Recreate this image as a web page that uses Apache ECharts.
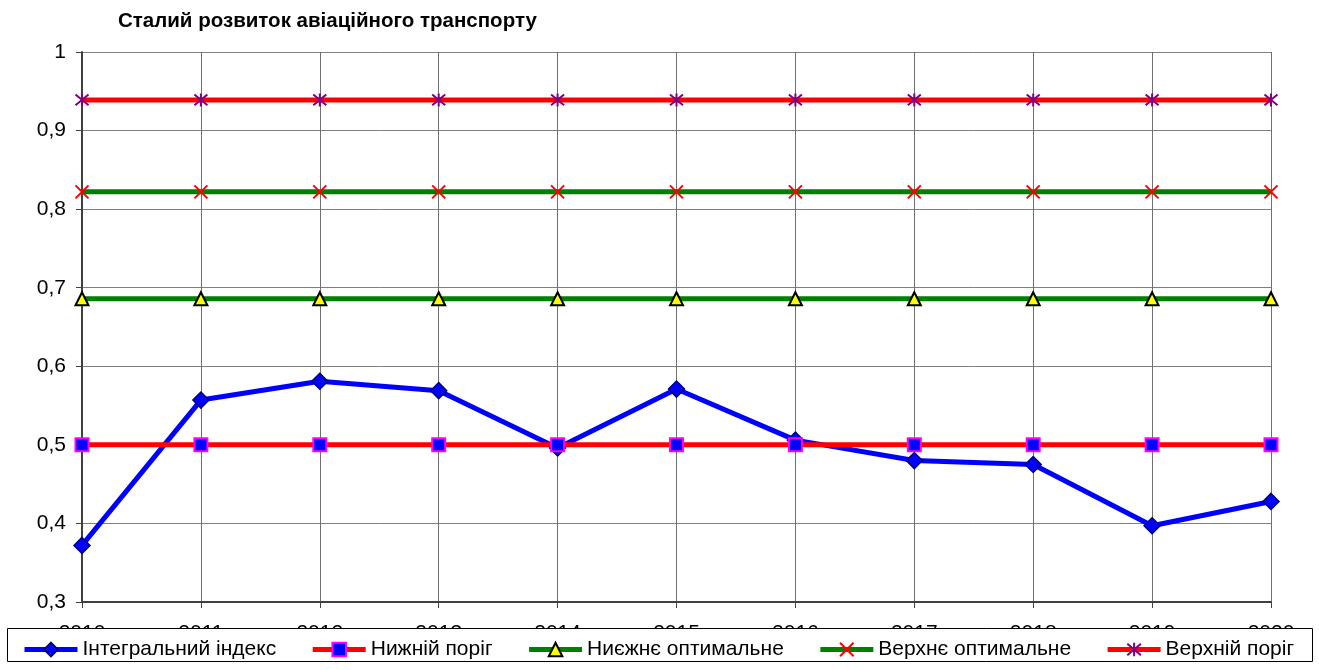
<!DOCTYPE html>
<html>
<head>
<meta charset="utf-8">
<script src="https://cdn.jsdelivr.net/npm/echarts@6/dist/echarts.min.js"></script>
<style>
  html, body { margin: 0; padding: 0; background: #fff; }
  #chart { width: 1319px; height: 670px; }
</style>
</head>
<body>
<div id="chart"></div>
<script>
// Years on the horizontal axis
const years = ['2010', '2011', '2012', '2013', '2014', '2015', '2016', '2017', '2018', '2019', '2020'];

// Integral index of sustainable development of air transport
const integralIndex = [0.372, 0.557, 0.581, 0.569, 0.496, 0.571, 0.506, 0.480, 0.475, 0.397, 0.428];
// Threshold levels
const lowerThreshold = [0.5, 0.5, 0.5, 0.5, 0.5, 0.5, 0.5, 0.5, 0.5, 0.5, 0.5];
const lowerOptimal = [0.686, 0.686, 0.686, 0.686, 0.686, 0.686, 0.686, 0.686, 0.686, 0.686, 0.686];
const upperOptimal = [0.822, 0.822, 0.822, 0.822, 0.822, 0.822, 0.822, 0.822, 0.822, 0.822, 0.822];
const upperThreshold = [0.939, 0.939, 0.939, 0.939, 0.939, 0.939, 0.939, 0.939, 0.939, 0.939, 0.939];

// Value-axis tick labels (decimal comma)
const yTickLabels = ['0,3', '0,4', '0,5', '0,6', '0,7', '0,8', '0,9', '1'];

const seriesNames = ['Інтегральний індекс', 'Нижній поріг', 'Ниєжнє оптимальне', 'Верхнє оптимальне', 'Верхній поріг'];

const FONT = 'Liberation Sans, Arial, sans-serif';
const crossPath = 'path://M0 0 L10 10 M10 0 L0 10';
const starPath = 'path://M0 0 L10 10 M10 0 L0 10 M5 -1 L5 11';

const chart = echarts.init(document.getElementById('chart'), null, { renderer: 'canvas' });

chart.setOption({
  animation: false,
  backgroundColor: '#ffffff',
  title: {
    text: 'Сталий розвиток авіаційного транспорту',
    left: 113,
    top: 6,
    textStyle: { fontFamily: FONT, fontSize: 20.5, fontWeight: 'bold', color: '#000' }
  },
  grid: { left: 82, right: 48, top: 52, bottom: 68, containLabel: false },
  xAxis: {
    type: 'category',
    data: years,
    boundaryGap: false,
    axisLine: { lineStyle: { color: '#404040', width: 2 } },
    axisTick: { show: true, length: 6, lineStyle: { color: '#404040', width: 1 } },
    axisLabel: { margin: 21, fontFamily: FONT, fontSize: 21, color: '#000' },
    splitLine: { show: true, lineStyle: { color: '#707070', width: 1 } }
  },
  yAxis: {
    type: 'value',
    min: 0.3,
    max: 1,
    interval: 0.1,
    axisLine: { show: true, lineStyle: { color: '#404040', width: 2 } },
    axisTick: { show: true, length: 6, lineStyle: { color: '#404040', width: 1 } },
    axisLabel: {
      margin: 16, fontFamily: FONT, fontSize: 21, color: '#000',
      formatter: v => yTickLabels[Math.round((v - 0.3) * 10)]
    },
    splitLine: { show: true, lineStyle: { color: '#808080', width: 1 } }
  },
  legend: {
    left: 17,
    top: 634,
    z: 200,
    itemWidth: 53,
    itemHeight: 17,
    itemGap: 34,
    lineStyle: { width: 5 },
    textStyle: { fontFamily: FONT, fontSize: 21, color: '#000' },
    data: seriesNames
  },
  graphic: [{
    type: 'rect',
    z: 100,
    shape: { x: 7.5, y: 628.5, width: 1305, height: 33 },
    style: { fill: '#fff', stroke: '#000', lineWidth: 1 }
  }],
  series: [
    {
      name: seriesNames[0], type: 'line', data: integralIndex,
      symbol: 'diamond', symbolSize: 16,
      lineStyle: { color: '#0000ff', width: 5 },
      itemStyle: { color: '#0000ff', borderColor: '#000080', borderWidth: 1.5 }
    },
    {
      name: seriesNames[1], type: 'line', data: lowerThreshold,
      symbol: 'rect', symbolSize: 13,
      lineStyle: { color: '#ff0000', width: 5 },
      itemStyle: { color: '#0000ff', borderColor: '#ff00ff', borderWidth: 2 }
    },
    {
      name: seriesNames[2], type: 'line', data: lowerOptimal,
      symbol: 'triangle', symbolSize: 13,
      lineStyle: { color: '#008000', width: 5 },
      itemStyle: { color: '#ffff00', borderColor: '#000', borderWidth: 2 }
    },
    {
      name: seriesNames[3], type: 'line', data: upperOptimal,
      symbol: crossPath, symbolSize: 13,
      lineStyle: { color: '#008000', width: 5 },
      itemStyle: { color: 'none', borderColor: '#ff0000', borderWidth: 2 }
    },
    {
      name: seriesNames[4], type: 'line', data: upperThreshold,
      symbol: starPath, symbolSize: 13,
      lineStyle: { color: '#ff0000', width: 5 },
      itemStyle: { color: 'none', borderColor: '#800080', borderWidth: 2 }
    }
  ]
});
</script>
</body>
</html>
